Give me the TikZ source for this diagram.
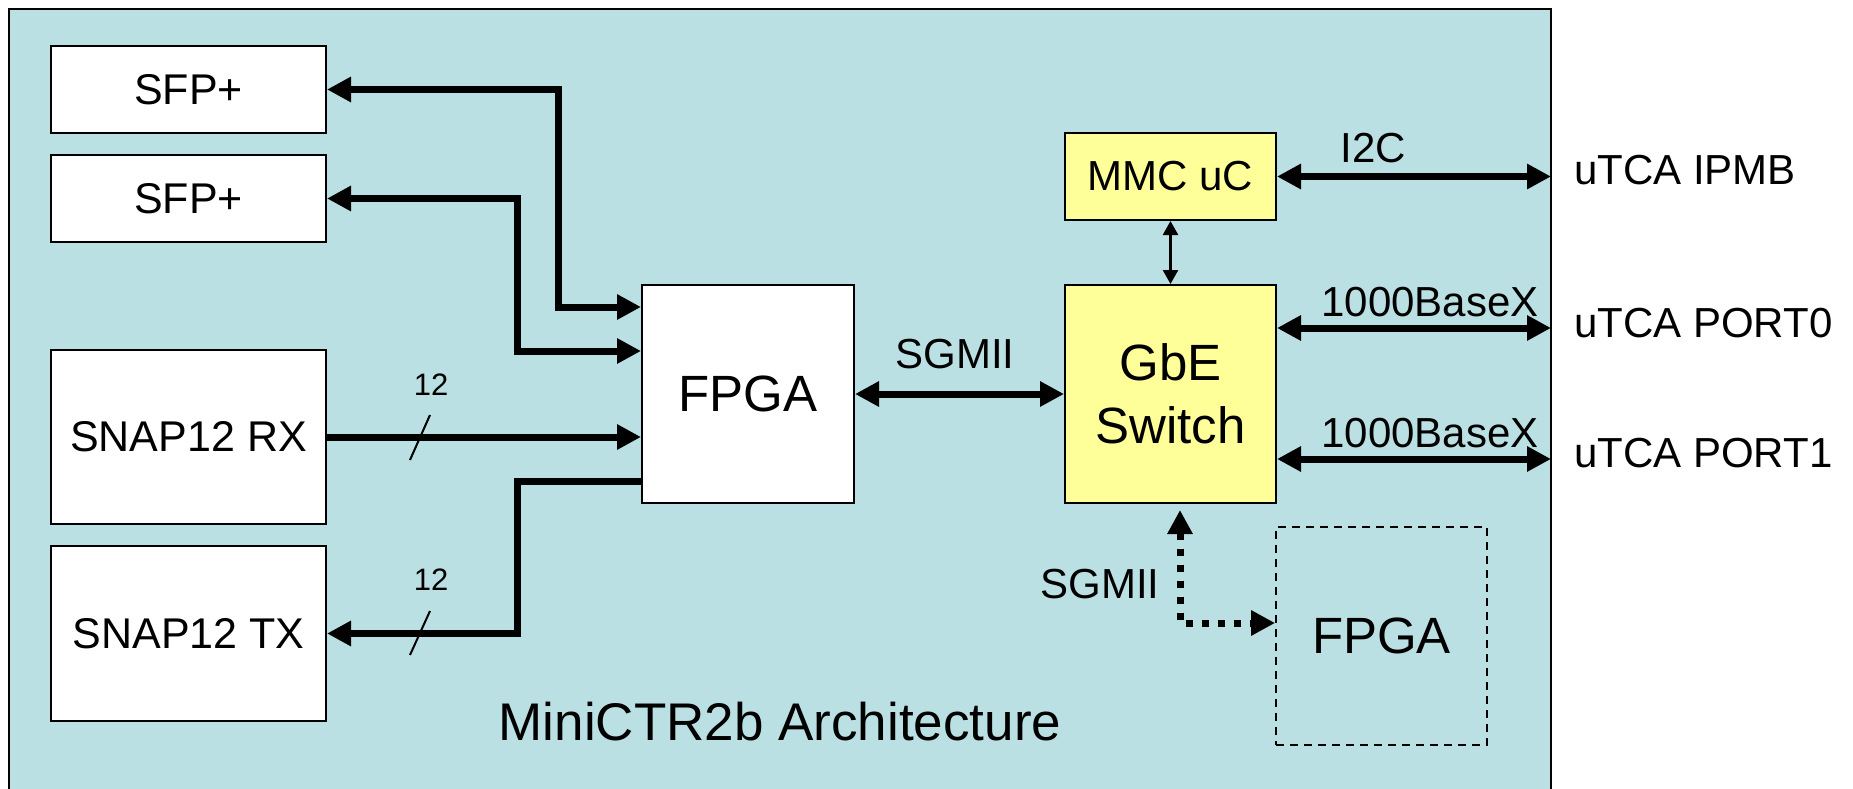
\documentclass[tikz,border=0pt]{standalone}
\usepackage{fontspec}
\setmainfont{Liberation Sans}
\usetikzlibrary{arrows.meta,calc}
\definecolor{bgblue}{HTML}{BBE0E3}
\definecolor{boxyellow}{HTML}{FFFF99}
\tikzset{
  bigtip/.tip={Triangle[length=24pt,width=24pt]},
  smalltip/.tip={Triangle[length=14pt,width=15pt]},
  boxw/.style={draw=black,line width=2pt,fill=white,inner sep=0pt,font=\fontsize{43}{50}\selectfont},
  boxy/.style={draw=black,line width=2pt,fill=boxyellow,inner sep=0pt,minimum width=211pt,font=\fontsize{51}{63}\selectfont,align=center},
  boxdash/.style={draw=black,line width=1.8pt,dash pattern=on 8pt off 6pt,inner sep=0pt,minimum width=211pt,minimum height=218pt,font=\fontsize{51}{60}\selectfont},
  bus/.style={line width=7pt,line join=miter,line cap=butt},
  ctl/.style={line width=2.5pt},
  dotbus/.style={line width=7pt,dash pattern=on 7pt off 9pt},
  lbl/.style={font=\fontsize{42}{50}\selectfont,inner sep=0pt},
  numlbl/.style={font=\fontsize{31}{36}\selectfont,inner sep=0pt},
  slashmark/.style={line width=2pt},
}
\begin{document}
\begin{tikzpicture}[x=1pt,y=-1pt]
\useasboundingbox (0,0) rectangle (1853,789);
\clip (0,0) rectangle (1853,789);
\draw[fill=bgblue,line width=2.5pt] (9,9) rectangle (1551,800);

% blocks
\node[boxw,minimum width=275pt,minimum height=87pt] (sfpA) at (188.5,89.5) {SFP+};
\node[boxw,minimum width=275pt,minimum height=87pt] (sfpB) at (188.5,198.5) {SFP+};
\node[boxw,minimum width=275pt,minimum height=174pt] (rx) at (188.5,437) {SNAP12 RX};
\node[boxw,minimum width=275pt,minimum height=175pt] (tx) at (188.5,633.5) {SNAP12 TX};
\node[boxw,minimum width=212pt,minimum height=218pt,font=\fontsize{51}{60}\selectfont] (fpga) at (748,394) {FPGA};
\node[boxy,minimum height=87pt,font=\fontsize{42}{50}\selectfont] (mmc) at (1170.5,176.5) {MMC uC};
\node[boxy,minimum height=218pt] (gbe) at (1170.5,394) {GbE\\Switch};
\node[boxdash] (fpgb) at (1381.5,636) {FPGA};

% connectors
\draw[bus,bigtip-bigtip] (sfpA.east) -- (558,89.5) |- (fpga.west |- 0,307);
\draw[bus,bigtip-bigtip] (sfpB.east) -- (517,198.5) |- (fpga.west |- 0,351);
\draw[bus,-bigtip] (rx.east) -- (rx.east -| fpga.west);
\draw[bus,-bigtip] (fpga.west |- 0,481) -- (517,481) |- (tx.east);
\draw[bus,bigtip-bigtip] (fpga.east) -- (gbe.west);
\draw[ctl,smalltip-smalltip] (mmc.south) -- (gbe.north);

\coordinate (ipmb) at (1551,176.5);
\coordinate (pz) at (1551,328);
\coordinate (po) at (1551,459);
\draw[bus,bigtip-bigtip] (mmc.east) -- (ipmb);
\draw[bus,bigtip-bigtip] (gbe.east |- pz) -- (pz);
\draw[bus,bigtip-bigtip] (gbe.east |- po) -- (po);

\coordinate (dc) at (1180,623);
\draw[dotbus,bigtip-bigtip] ([xshift=9.5pt,yshift=-6pt]gbe.south) -- (dc) -- (dc -| fpgb.west);

% bus width marks
\draw[slashmark] (430,415) -- (410,460);
\draw[slashmark] (430,611) -- (410,655);
\node[numlbl] (na) at (431,385) {12};
\node[numlbl] (nb) at (431,580) {12};

% labels
\node[lbl,anchor=base] (sga) at (955,368) {SGMII};
\node[lbl,anchor=base] (sgb) at (1100,598) {SGMII};
\node[lbl,anchor=base] (iic) at (1373,163) {I2C};
\node[lbl,anchor=base] (bxa) at (1430,316) {1000BaseX};
\node[lbl,anchor=base] (bxb) at (1430,447) {1000BaseX};
\node[lbl,anchor=base west] (tipmb) at (1574,185) {uTCA IPMB};
\node[lbl,anchor=base west] (tpa) at (1574,337) {uTCA PORT0};
\node[lbl,anchor=base west] (tpb) at (1574,467) {uTCA PORT1};
\node[font=\fontsize{53}{60}\selectfont,anchor=base,inner sep=0pt] (title) at (780,740) {MiniCTR2b Architecture};
\end{tikzpicture}
\end{document}
